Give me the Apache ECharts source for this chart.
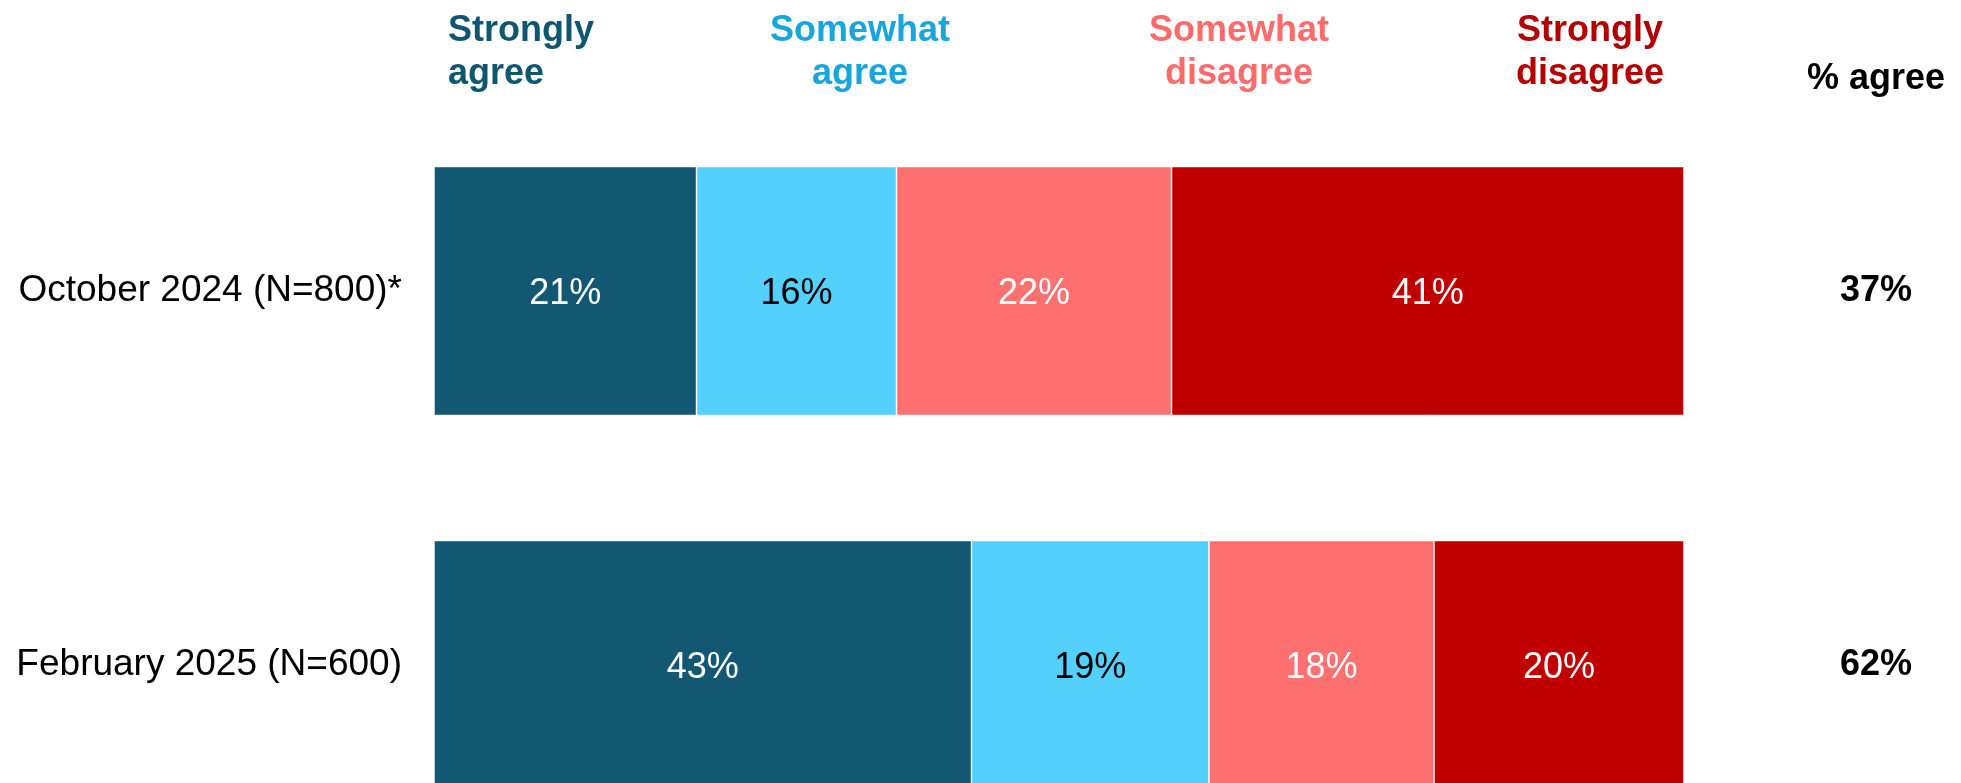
<!DOCTYPE html>
<html>
<head>
<meta charset="utf-8">
<style>
  html, body { margin: 0; padding: 0; background: #ffffff; }
  #chart { width: 1961px; height: 783px; }
</style>
<script src="https://cdn.jsdelivr.net/npm/echarts@6/dist/echarts.min.js"></script>
</head>
<body>
<div id="chart"></div>
<script>
// Survey waves (top to bottom)
const waves = ['October 2024 (N=800)*', 'February 2025 (N=600)'];

// Response shares, in percent
const stronglyAgree = [21, 43];
const somewhatAgree = [16, 19];
const somewhatDisagree = [22, 18];
const stronglyDisagree = [41, 20];

// Net agreement shown at the right of each bar
const percentAgree = stronglyAgree.map((v, i) => v + somewhatAgree[i]);

const FONT = '"Liberation Sans", Arial, Helvetica, sans-serif';

const chart = echarts.init(document.getElementById('chart'), null, { renderer: 'canvas' });

function stackSeries(name, values, fill, labelColor) {
  return {
    name: name,
    type: 'bar',
    stack: 'total',
    barWidth: 249,
    data: values,
    itemStyle: {
      color: fill,
      borderColor: 'rgba(255,255,255,0.45)',
      borderWidth: 1
    },
    label: {
      show: true,
      position: 'inside',
      offset: [0, 3],
      formatter: p => p.value + '%',
      color: labelColor,
      fontFamily: FONT,
      fontSize: 36
    },
    emphasis: { disabled: true },
    silent: true
  };
}

function header(text, x, align, color) {
  return {
    type: 'text',
    x: x,
    y: 10,
    style: {
      text: text,
      x: 0,
      y: 0,
      fill: color,
      font: 'bold 36px ' + FONT,
      lineHeight: 43,
      textAlign: align,
      textVerticalAlign: 'top'
    }
  };
}

const option = {
  backgroundColor: '#ffffff',
  animation: false,
  // the lower bar runs past the bottom edge of the canvas
  grid: {
    left: 434, width: 1250, top: 104, height: 748,
    containLabel: false,
    outerBoundsMode: 'none'
  },
  xAxis: {
    type: 'value',
    min: 0,
    max: 100,
    show: false
  },
  yAxis: [
    {
      type: 'category',
      data: waves,
      inverse: true,
      axisLine: { show: false },
      axisTick: { show: false },
      splitLine: { show: false },
      axisLabel: {
        color: '#000000',
        fontFamily: FONT,
        fontSize: 37,
        margin: 32,
        padding: [6, 0, 0, 0]
      }
    },
    {
      type: 'category',
      data: percentAgree.map(v => v + '%'),
      inverse: true,
      position: 'right',
      axisLine: { show: false },
      axisTick: { show: false },
      splitLine: { show: false },
      axisLabel: {
        color: '#000000',
        fontFamily: FONT,
        fontSize: 36,
        fontWeight: 'bold',
        align: 'center',
        margin: 192,
        padding: [6, 0, 0, 0]
      }
    }
  ],
  series: [
    stackSeries('Strongly agree', stronglyAgree, '#125873', '#ffffff'),
    stackSeries('Somewhat agree', somewhatAgree, '#54D0FD', '#000000'),
    stackSeries('Somewhat disagree', somewhatDisagree, '#FF7171', '#ffffff'),
    stackSeries('Strongly disagree', stronglyDisagree, '#C00000', '#ffffff')
  ],
  graphic: [
    header('Strongly\nagree', 448, 'left', '#0F5670'),
    header('Somewhat\nagree', 860, 'center', '#17A6DC'),
    header('Somewhat\ndisagree', 1239, 'center', '#FF6B6B'),
    header('Strongly\ndisagree', 1590, 'center', '#B30000'),
    {
      type: 'text',
      x: 1876,
      y: 61,
      style: {
        text: '% agree',
        x: 0,
        y: 0,
        fill: '#000000',
        font: 'bold 36px ' + FONT,
        textAlign: 'center',
        textVerticalAlign: 'top'
      }
    }
  ]
};

chart.setOption(option);
</script>
</body>
</html>
